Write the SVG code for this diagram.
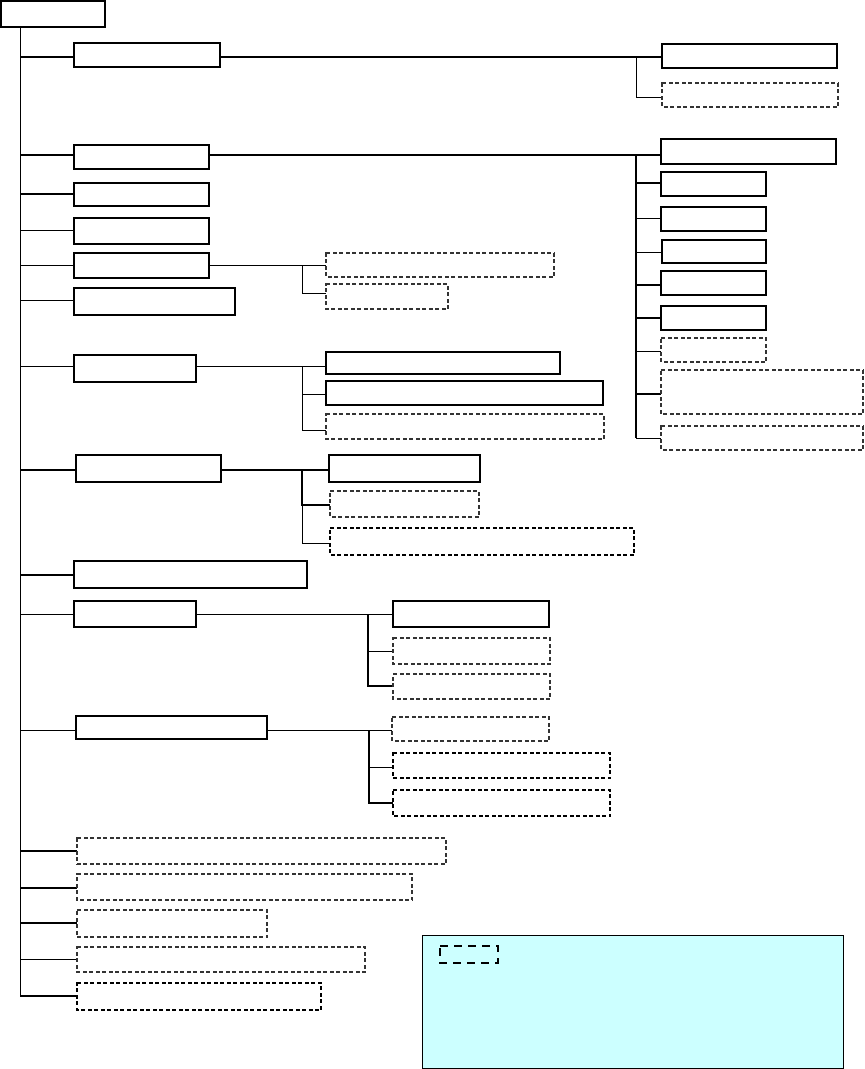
<svg xmlns="http://www.w3.org/2000/svg" width="865" height="1069" viewBox="0 0 865 1069" shape-rendering="crispEdges">
<style>
.s{fill:#fff;stroke:#000;stroke-width:1.5}
.b{fill:#fff;stroke:#000;stroke-width:2}
.d{fill:#fff;stroke:#333;stroke-width:1.5;stroke-dasharray:4 2.5}
.dk{fill:#fff;stroke:#000;stroke-width:2;stroke-dasharray:4 2.5}
.t{fill:none;stroke:#000;stroke-width:1}
.k{fill:none;stroke:#000;stroke-width:2}
</style>
<rect width="865" height="1069" fill="#fff"/>
<g id="connectors">
<path class="t" d="M20.5 27V996"/>
<path class="k" d="M20 57H74M220 57H662"/>
<path class="t" d="M636.5 57V97.5H662"/>
<path class="k" d="M20 155H74M209 155H662M636 155V438"/>
<path class="k" d="M636 183H661M636 285H661M636 318H661M636 394H661"/>
<path class="t" d="M636 218.5H661M636 252.5H662M636 351.5H661M636 438.5H661"/>
<path class="k" d="M20 194H74"/>
<path class="t" d="M20 230.5H74M20 265.5H74M20 300.5H74M20 366.5H74"/>
<path class="t" d="M209 265.5H326M302.5 265V293.5H326"/>
<path class="t" d="M196 366.5H326M302.5 366V430.5H326M302 394.5H326"/>
<path class="k" d="M20 470H76M221 470H329M302 470V505H330"/>
<path class="t" d="M302.5 505V543.5H330"/>
<path class="k" d="M20 575H74"/>
<path class="t" d="M20 614.5H74M196 614.5H393M368 651.5H393"/>
<path class="k" d="M368 614V686H393"/>
<path class="t" d="M20 730.5H76M267 730.5H392M369 767.5H393"/>
<path class="k" d="M369 730V803H393"/>
<path class="k" d="M20 851H77M20 888H77M20 923H77M20 996H77"/>
<path class="t" d="M20 959.5H77"/>
</g>
<g id="root"><rect class="b" x="1" y="1" width="104" height="26"/></g>
<g id="n1"><rect class="s" x="74" y="43" width="146" height="24"/></g>
<g id="n1a"><rect class="s" x="662" y="44" width="175" height="24"/></g>
<g id="n1b"><rect class="d" x="662" y="83" width="176" height="24"/></g>
<g id="n2"><rect class="s" x="74" y="145" width="135" height="24"/></g>
<g id="n2a"><rect class="s" x="661" y="139" width="175" height="25"/></g>
<g id="n2b"><rect class="s" x="661" y="172" width="105" height="24"/></g>
<g id="n2c"><rect class="s" x="661" y="207" width="105" height="24"/></g>
<g id="n2d"><rect class="b" x="662" y="240" width="104" height="23"/></g>
<g id="n2e"><rect class="s" x="661" y="271" width="105" height="24"/></g>
<g id="n2f"><rect class="b" x="661" y="306" width="105" height="24"/></g>
<g id="n2g"><rect class="d" x="661" y="338" width="105" height="24"/></g>
<g id="n2h"><rect class="d" x="661" y="370" width="202" height="44"/></g>
<g id="n2i"><rect class="d" x="661" y="426" width="202" height="24"/></g>
<g id="n3"><rect class="s" x="74" y="183" width="135" height="23"/></g>
<g id="n4"><rect class="s" x="74" y="218" width="135" height="26"/></g>
<g id="n5"><rect class="b" x="74" y="253" width="135" height="25"/></g>
<g id="n5a"><rect class="d" x="326" y="253" width="228" height="24"/></g>
<g id="n5b"><rect class="d" x="326" y="284" width="122" height="25"/></g>
<g id="n6"><rect class="s" x="74" y="288" width="161" height="27"/></g>
<g id="n7"><rect class="b" x="74" y="355" width="122" height="27"/></g>
<g id="n7a"><rect class="s" x="326" y="352" width="234" height="22"/></g>
<g id="n7b"><rect class="s" x="326" y="381" width="277" height="24"/></g>
<g id="n7c"><rect class="d" x="326" y="414" width="278" height="25"/></g>
<g id="n8"><rect class="s" x="76" y="455" width="145" height="27"/></g>
<g id="n8a"><rect class="b" x="329" y="455" width="151" height="27"/></g>
<g id="n8b"><rect class="d" x="330" y="491" width="149" height="26"/></g>
<g id="n8c"><rect class="dk" x="330" y="528" width="304" height="27"/></g>
<g id="n9"><rect class="s" x="74" y="561" width="233" height="27"/></g>
<g id="n10"><rect class="b" x="74" y="601" width="122" height="26"/></g>
<g id="n10a"><rect class="b" x="393" y="601" width="156" height="26"/></g>
<g id="n10b"><rect class="d" x="393" y="638" width="157" height="26"/></g>
<g id="n10c"><rect class="d" x="393" y="674" width="157" height="25"/></g>
<g id="n11"><rect class="b" x="76" y="716" width="191" height="23"/></g>
<g id="n11a"><rect class="d" x="392" y="717" width="157" height="24"/></g>
<g id="n11b"><rect class="dk" x="393" y="753" width="217" height="25"/></g>
<g id="n11c"><rect class="dk" x="393" y="790" width="217" height="26"/></g>
<g id="n12"><rect class="d" x="77" y="838" width="369" height="26"/></g>
<g id="n13"><rect class="d" x="77" y="874" width="335" height="26"/></g>
<g id="n14"><rect class="d" x="77" y="910" width="190" height="27"/></g>
<g id="n15"><rect class="d" x="77" y="947" width="288" height="25"/></g>
<g id="n16"><rect class="dk" x="77" y="983" width="244" height="27"/></g>
<g id="legend">
<rect x="422.5" y="935.5" width="421" height="133" fill="#ccffff" stroke="#000" stroke-width="1"/>
<rect x="440" y="946" width="58" height="17" fill="none" stroke="#000" stroke-width="2.5" stroke-dasharray="8 6"/>
</g>
</svg>
